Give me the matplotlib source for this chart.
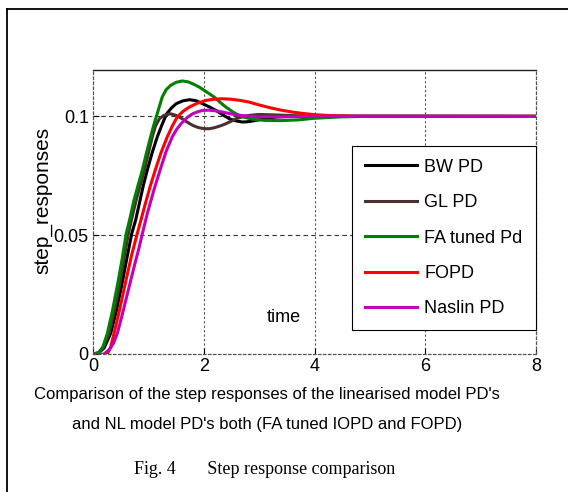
import matplotlib
matplotlib.use('Agg')
import matplotlib.pyplot as plt
from matplotlib.lines import Line2D

# step responses (time, output)
t_bw = [0, 0.1, 0.2, 0.32, 0.42, 0.52, 0.61, 0.70, 0.77, 0.85, 0.91, 0.98, 1.07, 1.16, 1.25, 1.33, 1.42, 1.50, 1.62,
        1.74, 1.86, 1.98, 2.10, 2.22, 2.34, 2.46, 2.58, 2.70, 2.82, 2.94, 3.1, 3.3, 3.6, 4.0, 8.0]
y_bw = [0, 0.0004, 0.0025, 0.0087, 0.0180, 0.0290, 0.0400, 0.0507, 0.0563, 0.0647, 0.0710, 0.0773, 0.0848, 0.0913,
        0.0967, 0.1011, 0.1036, 0.1053, 0.1065, 0.1070, 0.1066, 0.1053, 0.1040, 0.1025, 0.1007, 0.0990, 0.0981,
        0.0976, 0.0978, 0.0983, 0.0990, 0.0997, 0.1001, 0.1001, 0.1000]

t_gl = [0, 0.1, 0.19, 0.29, 0.38, 0.48, 0.56, 0.64, 0.71, 0.78, 0.86, 0.93, 1.00, 1.07, 1.13, 1.20, 1.28, 1.40, 1.50,
        1.61, 1.70, 1.80, 1.90, 2.01, 2.10, 2.19, 2.30, 2.40, 2.50, 2.58, 2.70, 2.82, 3.0, 3.3, 3.7, 4.2, 8.0]
y_gl = [0, 0.0005, 0.003, 0.0087, 0.0175, 0.0290, 0.0400, 0.0507, 0.0580, 0.0647, 0.0715, 0.0773, 0.0845, 0.0913,
        0.0960, 0.0990, 0.1004, 0.1011, 0.1004, 0.0990, 0.0976, 0.0962, 0.0953, 0.0948, 0.0948, 0.0952, 0.0960,
        0.0969, 0.0980, 0.0990, 0.0998, 0.1004, 0.1008, 0.1006, 0.1002, 0.1000, 0.1000]

t_fa = [0, 0.1, 0.18, 0.26, 0.35, 0.45, 0.53, 0.60, 0.66, 0.74, 0.82, 0.89, 0.97, 1.04, 1.10, 1.16, 1.25, 1.32, 1.40,
        1.50, 1.61, 1.72, 1.82, 1.92, 2.05, 2.19, 2.30, 2.40, 2.50, 2.58, 2.70, 2.88, 3.1, 3.4, 3.7, 4.0, 4.5, 5.0, 8.0]
y_fa = [0, 0.0005, 0.003, 0.0087, 0.0180, 0.0300, 0.0405, 0.0507, 0.0563, 0.0647, 0.0715, 0.0773, 0.0850, 0.0913,
        0.0965, 0.1011, 0.1081, 0.1112, 0.1130, 0.1143, 0.1149, 0.1145, 0.1135, 0.1123, 0.1103, 0.1081, 0.1058,
        0.1039, 0.1023, 0.1011, 0.0998, 0.0988, 0.0983, 0.0982, 0.0985, 0.0992, 0.0998, 0.1000, 0.1000]

t_fo = [0, 0.08, 0.16, 0.25, 0.32, 0.38, 0.46, 0.54, 0.62, 0.70, 0.80, 0.87, 0.94, 1.03, 1.13, 1.23, 1.34, 1.43, 1.52,
        1.63, 1.74, 1.88, 2.04, 2.18, 2.34, 2.50, 2.66, 2.82, 3.0, 3.2, 3.4, 3.6, 3.8, 4.0, 4.3, 4.6, 5.0, 8.0]
y_fo = [0, -0.0010, -0.0012, -0.0005, 0.0030, 0.0087, 0.0165, 0.0250, 0.0335, 0.0418, 0.0507, 0.0567, 0.0628, 0.0703,
        0.0778, 0.0848, 0.0913, 0.0958, 0.0997, 0.1022, 0.1039, 0.1055, 0.1067, 0.1072, 0.1074, 0.1072, 0.1067,
        0.1060, 0.1048, 0.1036, 0.1026, 0.1018, 0.1012, 0.1007, 0.1003, 0.1001, 0.1000, 0.1000]

t_na = [0, 0.1, 0.2, 0.3, 0.37, 0.44, 0.52, 0.60, 0.68, 0.76, 0.83, 0.89, 0.98, 1.10, 1.22, 1.32, 1.43, 1.51, 1.59,
        1.70, 1.80, 1.90, 1.98, 2.10, 2.22, 2.34, 2.50, 2.70, 3.0, 3.4, 4.0, 8.0]
y_na = [0, -0.0004, 0.0000, 0.0020, 0.0045, 0.0087, 0.0158, 0.0233, 0.0308, 0.0383, 0.0445, 0.0505, 0.0590, 0.0690,
        0.0780, 0.0852, 0.0913, 0.0945, 0.0969, 0.0995, 0.1011, 0.1020, 0.1025, 0.1026, 0.1023, 0.1018, 0.1010,
        0.1003, 0.0998, 0.0998, 0.1000, 0.1000]

labels = ['BW PD', 'GL PD', 'FA tuned Pd', 'FOPD', 'Naslin PD']
colors = ['black', '#4a3030', '#008000', '#ff0000', '#c000c0']
series = [(t_bw, y_bw), (t_gl, y_gl), (t_fa, y_fa), (t_fo, y_fo), (t_na, y_na)]

xticks = [0, 2, 4, 6, 8]
yticks = [0, 0.05, 0.1]
yticklabels = ['0', '0.05', '0.1']

plt.rcParams['font.family'] = ['Liberation Sans', 'DejaVu Sans']

fig = plt.figure(figsize=(5.68, 4.92), dpi=100)
ax = fig.add_axes([0.1637, 0.2805, 0.78, 0.5772])

for (t, y), c, lab in zip(series, colors, labels):
    ax.plot(t, y, color=c, linewidth=2.2, label=lab)

ax.set_xlim(0, 8)
ax.set_ylim(0, 0.1195)
ax.set_xticks(xticks)
ax.set_xticklabels([str(v) for v in xticks])
ax.set_yticks(yticks)
ax.set_yticklabels(yticklabels)
ax.tick_params(labelsize=13, direction='in', length=4, width=0.8, pad=3)

for v in xticks[1:-1]:
    ax.axvline(v, color='#555555', linewidth=0.8, linestyle=(0, (2, 2)), zorder=0)
for v in yticks[1:]:
    ax.axhline(v, color='#333333', linewidth=0.8, linestyle=(0, (4, 3)), zorder=0)

for side in ['left', 'right', 'bottom']:
    ax.spines[side].set_linestyle((0, (2, 2)))
    ax.spines[side].set_color('#555555')
    ax.spines[side].set_linewidth(0.9)
ax.spines['top'].set_color('#222222')
ax.spines['top'].set_linewidth(1.0)

ax.text(3.45, 0.0155, 'time', fontsize=13, ha='center', va='center')

leg = ax.legend(loc='lower left', bbox_to_anchor=(0.585, 0.0845, 0.415, 0.648),
                mode='expand', fontsize=13, handlelength=2.9, handletextpad=0.4,
                borderaxespad=0, fancybox=False, framealpha=1, labelspacing=1.02,
                borderpad=0.7)
leg.get_frame().set_edgecolor('black')
leg.get_frame().set_linewidth(0.8)

fig.text(43 / 568, 1 - 200 / 492, 'step_responses', rotation=90, fontsize=15,
         ha='center', va='center')
fig.text(267 / 568, 1 - 395 / 492, "Comparison of the step responses of the linearised model PD's",
         fontsize=12, ha='center', va='center')
fig.text(267 / 568, 1 - 425 / 492, "and NL model PD's both (FA tuned IOPD and FOPD)",
         fontsize=12, ha='center', va='center')
fig.text(265 / 568, 1 - 470 / 492, 'Fig. 4       Step response comparison',
         fontsize=13, family='Liberation Serif', ha='center', va='center')

# page frame (top and left edges only)
fig.add_artist(Line2D([7 / 568, 1.0], [1 - 9 / 492, 1 - 9 / 492], color='black', linewidth=1.3,
                      transform=fig.transFigure))
fig.add_artist(Line2D([7 / 568, 7 / 568], [0, 1 - 9 / 492], color='black', linewidth=1.3,
                      transform=fig.transFigure))

fig.savefig('out.png', dpi=100)
